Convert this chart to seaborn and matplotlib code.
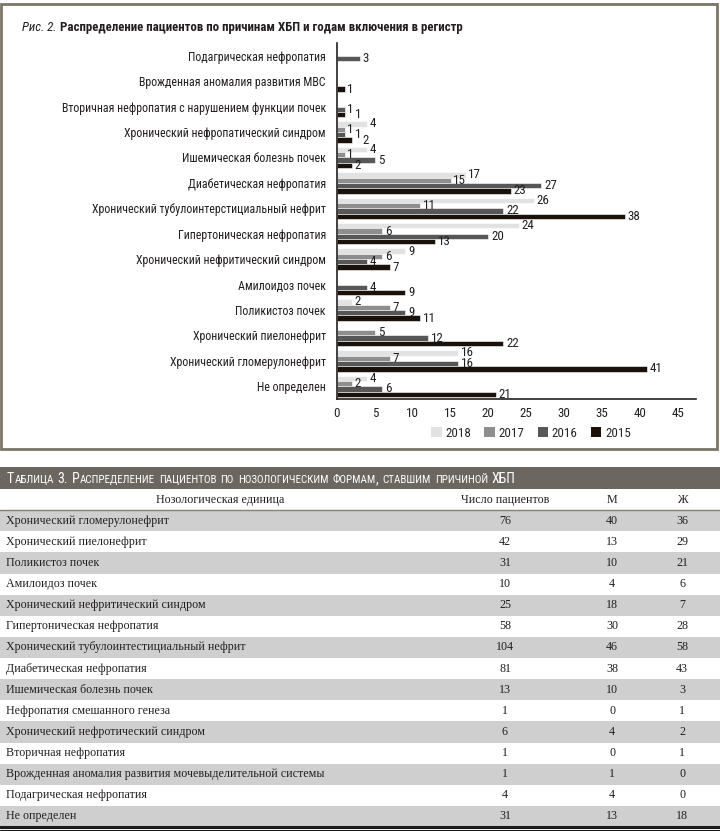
import numpy as np
import pandas as pd
import seaborn as sns
import matplotlib.pyplot as plt
from matplotlib import font_manager as fm
from matplotlib.patches import Rectangle, Patch

# chart data: causes of CKD by year of registry inclusion
causes = [
    "Подагрическая нефропатия",
    "Врожденная аномалия развития МВС",
    "Вторичная нефропатия с нарушением функции почек",
    "Хронический нефропатический синдром",
    "Ишемическая болезнь почек",
    "Диабетическая нефропатия",
    "Хронический тубулоинтерстициальный нефрит",
    "Гипертоническая нефропатия",
    "Хронический нефритический синдром",
    "Амилоидоз почек",
    "Поликистоз почек",
    "Хронический пиелонефрит",
    "Хронический гломерулонефрит",
    "Не определен",
]
years = ["2018", "2017", "2016", "2015"]
v2018 = [None, None, None, 4, 4, 17, 26, 24, 9, None, 2, None, 16, 4]
v2017 = [None, None, None, 1, 1, 15, 11, 6, 6, None, 7, 5, 7, 2]
v2016 = [3, None, 1, 1, 5, 27, 22, 20, 4, 4, 9, 12, 16, 6]
v2015 = [None, 1, 1, 2, 2, 23, 38, 13, 7, 9, 11, 22, 41, 21]
year_colors = ["#e2e2e2", "#8e8e8e", "#575757", "#1c1108"]

# table data
tbl_names = [
    "Хронический гломерулонефрит",
    "Хронический пиелонефрит",
    "Поликистоз почек",
    "Амилоидоз почек",
    "Хронический нефритический синдром",
    "Гипертоническая нефропатия",
    "Хронический тубулоинтестициальный нефрит",
    "Диабетическая нефропатия",
    "Ишемическая болезнь почек",
    "Нефропатия смешанного генеза",
    "Хронический нефротический синдром",
    "Вторичная нефропатия",
    "Врожденная аномалия развития мочевыделительной системы",
    "Подагрическая нефропатия",
    "Не определен",
]
tbl_total = [76, 42, 31, 10, 25, 58, 104, 81, 13, 1, 6, 1, 1, 4, 31]
tbl_m = [40, 13, 10, 4, 18, 30, 46, 38, 10, 0, 4, 0, 1, 4, 13]
tbl_f = [36, 29, 21, 6, 7, 28, 58, 43, 3, 1, 2, 1, 0, 0, 18]
tbl_cols = ["Нозологическая единица", "Число пациентов", "М", "Ж"]
tbl_title = "Таблица 3. Распределение пациентов по нозологическим формам, ставшим причиной ХБП"

installed = {f.name for f in fm.fontManager.ttflist}


def first_font(prefs):
    for p in prefs:
        if p in installed:
            return p
    return "DejaVu Sans"


NARROW = first_font(["Arial Narrow", "Liberation Sans Narrow", "Roboto Condensed",
                     "PT Sans Narrow", "Archivo Narrow", "Liberation Sans"])
SERIF_F = first_font(["Liberation Serif", "Tinos", "DejaVu Serif"])
SANS = [NARROW, "DejaVu Sans"]
SERIF = [SERIF_F, "DejaVu Serif"]
INK = "#231f20"

sns.set_style("white")
plt.rcParams["font.family"] = SANS

rows = []
for yr, vals in zip(years, [v2018, v2017, v2016, v2015]):
    for c, v in zip(causes, vals):
        if v is not None:
            rows.append({"cause": c, "year": yr, "n": v})
df = pd.DataFrame(rows)

W, H = 720, 831
fig = plt.figure(figsize=(W / 100, H / 100), dpi=100)
renderer = fig.canvas.get_renderer()


def text_w(s, size, **kw):
    t = fig.text(0, 0, s, fontsize=size, **kw)
    w = t.get_window_extent(renderer).width
    t.remove()
    return w


def fit(s, target, lo=7.5, hi=11, **kw):
    size = 10 * target / text_w(s, 10, **kw)
    return max(lo, min(hi, size))


lab_fs = fit(causes[2], 265)
title_fs = fit("Распределение пациентов по причинам ХБП и годам включения в регистр", 403, weight="bold")
row_fs = fit(tbl_names[12], 317, family=SERIF)

# overlay in pixel coordinates for frame and titles
bg = fig.add_axes([0, 0, 1, 1])
bg.set_xlim(0, W)
bg.set_ylim(H, 0)
bg.axis("off")
bg.add_patch(Rectangle((1, 4), 716, 445, fill=False, ec="#7b7468", lw=2))

# chart
left, right, top, bottom = 337, 695.7, 43, 399
ax = fig.add_axes([left / W, 1 - bottom / H, (right - left) / W, (bottom - top) / H])
sns.barplot(data=df, y="cause", x="n", hue="year", order=causes, hue_order=years,
            palette=year_colors, orient="h", width=0.84, errorbar=None,
            edgecolor="white", linewidth=0.4, legend=False, ax=ax)
ax.set_xlim(0, 47.4)

# value labels; small ones get nudged right when they collide with the label above
prev = {}
for cont in ax.containers:
    for bar in cont:
        val = bar.get_width()
        yc = bar.get_y() + bar.get_height() / 2
        grp = round(yc)
        ann = ax.annotate(f"{val:.0f}", (val, yc), xytext=(2, 0), textcoords="offset points",
                          ha="left", va="center", fontsize=lab_fs + 0.8, color=INK)
        ext = ann.get_window_extent(renderer)
        if grp in prev and val < 5:
            p = prev[grp]
            if ext.x0 < p.x1 and ext.x1 > p.x0 and ext.y1 > p.y0 + 2:
                dx = (p.x1 - ext.x0 + 1) * 72 / fig.dpi
                ann.set_position((2 + dx, 0))
                ext = ann.get_window_extent(renderer)
        prev[grp] = ext

ax.set_xticks(range(0, 50, 5))
ax.set_xlabel("")
ax.set_ylabel("")
ax.tick_params(axis="x", length=4, width=1, color=INK, labelsize=lab_fs + 0.8,
               labelcolor=INK, pad=2)
ax.tick_params(axis="y", length=0, labelsize=lab_fs, labelcolor=INK, pad=8)
for s in ["top", "right"]:
    ax.spines[s].set_visible(False)
for s in ["left", "bottom"]:
    ax.spines[s].set_color(INK)
    ax.spines[s].set_linewidth(1.2)

handles = [Patch(facecolor=c, edgecolor="none", label=y) for y, c in zip(years, year_colors)]
fig.legend(handles=handles, loc="center", bbox_to_anchor=(531 / W, 1 - 433 / H), ncol=4,
           frameon=False, fontsize=lab_fs + 0.8, handlelength=0.8, handleheight=0.8,
           handletextpad=0.3, columnspacing=1.0)


def put(x, y, s, draw=True, **kw):
    t = bg.text(x, y, s, va="baseline", **kw)
    w = t.get_window_extent(renderer).width
    if not draw:
        t.remove()
    return x + w


# figure title
x = put(22, 31, "Рис. 2.", fontsize=title_fs, style="italic", color=INK)
put(x + 4, 31, "Распределение пациентов по причинам ХБП и годам включения в регистр",
    fontsize=title_fs, weight="bold", color=INK)


# table title band with small caps
def small_caps(x, y, s, big, small, draw=True, **kw):
    for word in s.split(" "):
        runs = []
        for ch in word:
            is_big = not ch.islower()
            if runs and runs[-1][0] == is_big:
                runs[-1][1] += ch
            else:
                runs.append([is_big, ch])
        for is_big, txt in runs:
            x = put(x, y, txt.upper(), draw=draw, fontsize=big if is_big else small, **kw)
        x += big * 0.4
    return x


bg.add_patch(Rectangle((0, 467), W, 22, color="#6b6760", lw=0))
k = 513 / small_caps(0, 483, tbl_title, 10.5, 8.3, draw=False, color="white")
small_caps(7, 483, tbl_title, 10.5 * k, 8.3 * k, color="white")

# table
tx = fig.add_axes([0, 1 - 827 / H, 1, (827 - 489) / H])
tx.set_xlim(0, W)
tx.set_ylim(len(tbl_names) - 0.5, -1.5)
tx.axis("off")
for i in range(len(tbl_names)):
    if i % 2 == 0:
        tx.axhspan(i - 0.5, i + 0.5, color="#cfcfcf", lw=0)
tx.axhline(-0.5, color="#8a8070", lw=1)
col_x = [220, 505, 612, 682]
for cx, name in zip(col_x, tbl_cols):
    tx.text(cx, -1, name, ha="center", va="center", family=SERIF, fontsize=row_fs, color=INK)
for i, (nm, t, m, f) in enumerate(zip(tbl_names, tbl_total, tbl_m, tbl_f)):
    tx.text(6, i, nm, ha="left", va="center", family=SERIF, fontsize=row_fs, color=INK)
    for cx, v in zip(col_x[1:], [t, m, f]):
        tx.text(cx, i, str(v), ha="center", va="center", family=SERIF, fontsize=row_fs, color=INK)
n = len(tbl_names)
tx.axhline(n - 0.5, color="#1a1a1a", lw=2.2, clip_on=False)
tx.axhline(n - 0.5 + 0.12, color="#1a1a1a", lw=0.8, clip_on=False)

fig.savefig("out.png", dpi=100)
